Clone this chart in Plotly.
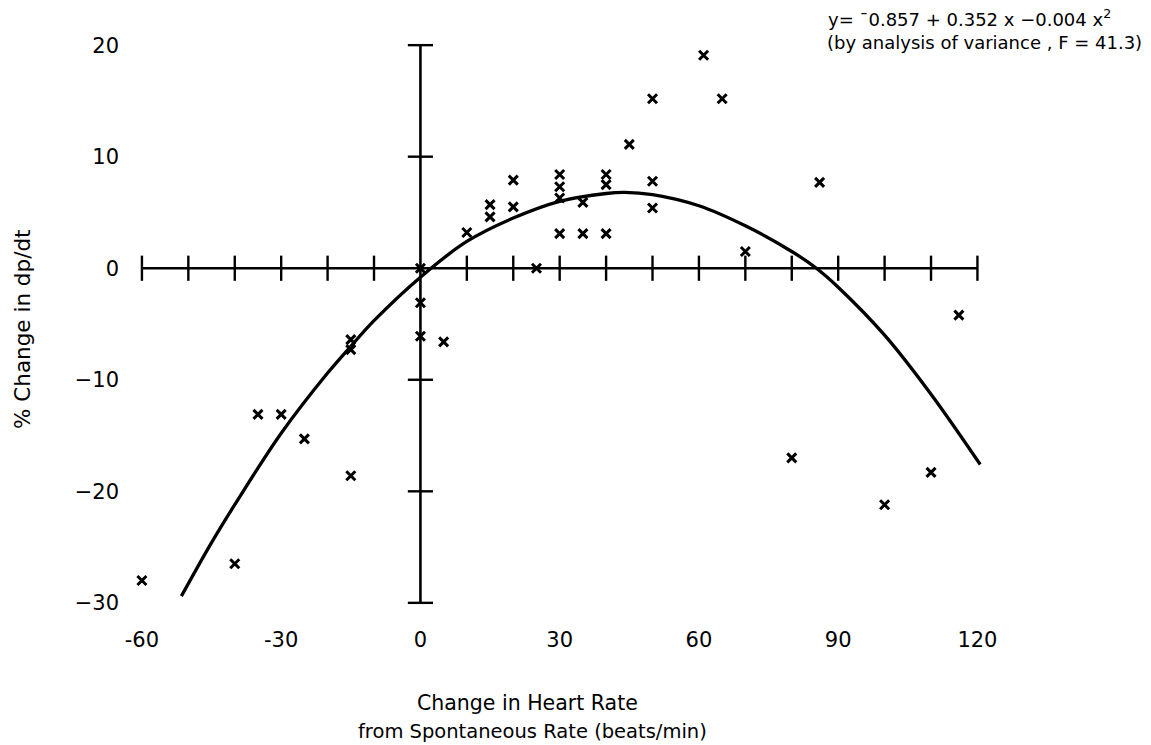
import plotly.graph_objects as go

# ---- data ----
HR_CHANGE = [-60, -40, -35, -30, -25, -15, -15, -15,
             0, 0, 0, 5, 10, 15, 15, 20, 20, 25,
             30, 30, 30, 30, 35, 35, 40, 40, 40, 45,
             50, 50, 50, 61, 65, 70, 80, 86, 100, 110, 116]
DPDT_CHANGE = [-28.0, -26.5, -13.1, -13.1, -15.3, -18.6, -6.4, -7.3,
               0.0, -3.1, -6.1, -6.6, 3.2, 5.7, 4.6, 7.9, 5.5, 0.0,
               8.4, 7.3, 6.3, 3.1, 5.9, 3.1, 8.4, 7.5, 3.1, 11.1,
               15.2, 7.8, 5.4, 19.1, 15.2, 1.5, -17.0, 7.7, -21.2, -18.3, -4.2]

FIT_X = [-51.5, -45, -40, -30, -20, -15, -10, 0, 10, 20, 30, 40, 44,
         50, 60, 70, 80, 85.3, 90, 100, 110, 120.6]
FIT_Y = [-29.4, -24.6, -21.2, -14.8, -9.4, -7.0, -4.7, -0.8, 2.4, 4.5, 6.0, 6.7, 6.8,
         6.6, 5.6, 3.8, 1.5, 0.0, -1.7, -6.0, -11.3, -17.6]

X_TICKS = [-60, -50, -40, -30, -20, -10, 10, 20, 30, 40, 50, 60, 70, 80, 90, 100, 110, 120]
Y_TICKS = [-30, -20, -10, 10, 20]
X_LABEL_VALS = [-60, -30, 0, 30, 60, 90, 120]
X_LABEL_TEXT = ["-60", "-30", "0", "30", "60", "90", "120"]
Y_LABEL_VALS = [-30, -20, -10, 0, 10, 20]
Y_LABEL_TEXT = ["\u221230", "\u221220", "\u221210", "0", "10", "20"]

EQUATION = "y= \u00af0.857 + 0.352 x \u22120.004 x<sup>2</sup>"
EQUATION_NOTE = "(by analysis of variance , F = 41.3)"
X_TITLE_1 = "Change in Heart Rate"
X_TITLE_2 = "from Spontaneous Rate (beats/min)"
Y_TITLE = "% Change in dp/dt"

FONT = "DejaVu Sans"
INK = "black"

fig = go.Figure()

# axis lines through the origin
fig.add_trace(go.Scatter(x=[min(X_TICKS), max(X_TICKS)], y=[0, 0], mode="lines",
                         line=dict(color=INK, width=2.6), hoverinfo="skip", showlegend=False))
fig.add_trace(go.Scatter(x=[0, 0], y=[min(Y_TICKS), max(Y_TICKS)], mode="lines",
                         line=dict(color=INK, width=2.6), hoverinfo="skip", showlegend=False))
# crossing tick marks
fig.add_trace(go.Scatter(x=X_TICKS, y=[0] * len(X_TICKS), mode="markers",
                         marker=dict(symbol="line-ns", size=18, line=dict(color=INK, width=2.4)),
                         hoverinfo="skip", showlegend=False, cliponaxis=False))
fig.add_trace(go.Scatter(x=[0] * len(Y_TICKS), y=Y_TICKS, mode="markers",
                         marker=dict(symbol="line-ew", size=18, line=dict(color=INK, width=2.4)),
                         hoverinfo="skip", showlegend=False, cliponaxis=False))
# fitted curve
fig.add_trace(go.Scatter(x=FIT_X, y=FIT_Y, mode="lines",
                         line=dict(color=INK, width=3.3, shape="spline", smoothing=1.0),
                         showlegend=False))
# observations
fig.add_trace(go.Scatter(x=HR_CHANGE, y=DPDT_CHANGE, mode="markers",
                         marker=dict(symbol="x-thin", size=9, line=dict(color=INK, width=3)),
                         showlegend=False, cliponaxis=False))

W, H = 1151, 745
ML, MR, MT, MB = 128, 155, 34, 131

fig.update_layout(
    width=W, height=H,
    margin=dict(l=ML, r=MR, t=MT, b=MB),
    plot_bgcolor="white", paper_bgcolor="white",
    font=dict(family=FONT, color=INK, size=21),
    xaxis=dict(range=[-63, 124], showgrid=False, zeroline=False, showline=False,
               tickmode="array", tickvals=X_LABEL_VALS, ticktext=X_LABEL_TEXT,
               ticks="", ticklabelstandoff=11, tickfont=dict(size=21)),
    yaxis=dict(range=[-31, 21], showgrid=False, zeroline=False, showline=False,
               tickmode="array", tickvals=Y_LABEL_VALS, ticktext=Y_LABEL_TEXT,
               ticks="", ticklabelstandoff=8, tickfont=dict(size=21)),
)

pw = W - ML - MR
ph = H - MT - MB

def px(xp):
    return (xp - ML) / pw

def py(yp):
    return (H - MB - yp) / ph

fig.add_annotation(text=EQUATION, xref="paper", yref="paper", x=px(826), y=py(18),
                   xanchor="left", yanchor="middle", showarrow=False, font=dict(size=18))
fig.add_annotation(text=EQUATION_NOTE, xref="paper", yref="paper", x=px(825), y=py(43),
                   xanchor="left", yanchor="middle", showarrow=False, font=dict(size=18))
fig.add_annotation(text=X_TITLE_1, xref="paper", yref="paper", x=px(527), y=py(703),
                   xanchor="center", yanchor="middle", showarrow=False, font=dict(size=20.5))
fig.add_annotation(text=X_TITLE_2, xref="paper", yref="paper", x=px(532), y=py(731),
                   xanchor="center", yanchor="middle", showarrow=False, font=dict(size=19.5))
fig.add_annotation(text=Y_TITLE, xref="paper", yref="paper", x=px(22), y=py(330),
                   xanchor="center", yanchor="middle", textangle=-90, showarrow=False,
                   font=dict(size=21.5))

fig.write_html("out.html", config={"displayModeBar": False},
               post_script="document.body.style.margin='0';document.body.style.overflow='hidden';")
